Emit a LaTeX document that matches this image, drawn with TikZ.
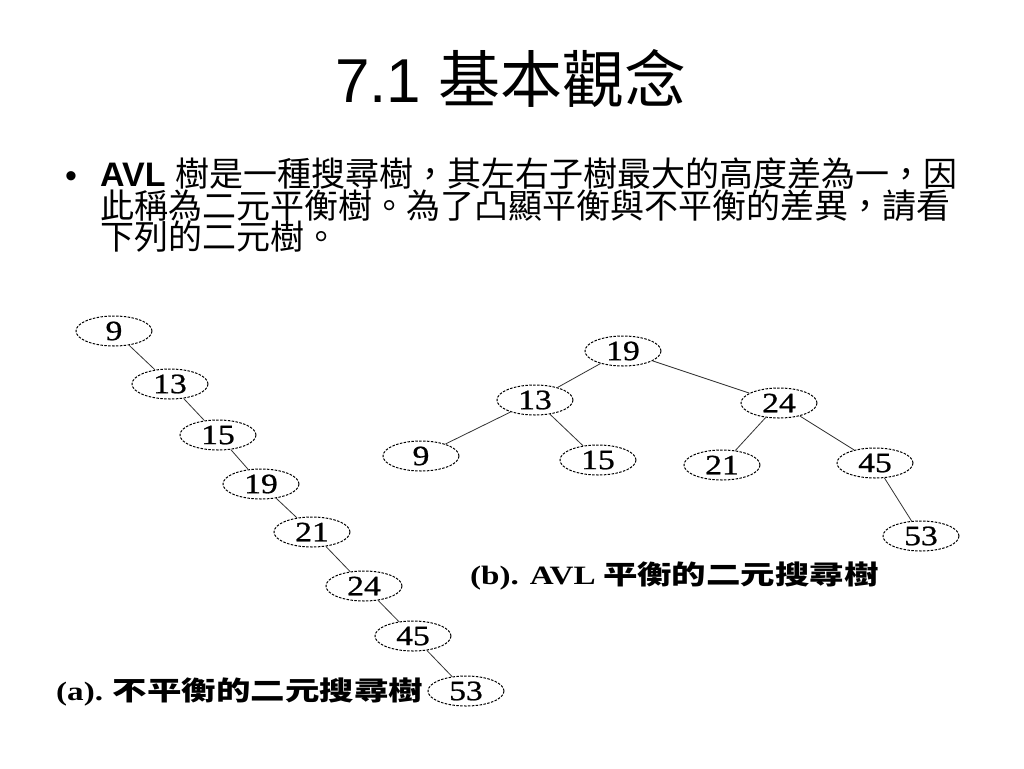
\documentclass[tikz,border=0pt]{standalone}
\usepackage{fontspec}
\setmainfont{Liberation Sans}
\newfontfamily\cjk{Noto Sans CJK TC}
\newfontfamily\cjklab{Noto Sans CJK TC}[FakeStretch=1.3]
\newfontfamily\treefont{Liberation Serif}[FakeStretch=1.2,FakeBold=0.8]
\newfontfamily\labserif{Liberation Serif}[FakeStretch=1.25]
\usetikzlibrary{shapes.geometric}
\newcommand\mytightlines{\setlength{\lineskiplimit}{-60pt}\setlength{\lineskip}{0pt}}
\begin{document}
\begin{tikzpicture}[x=1pt,y=-1pt,
  tnode/.style={ellipse,draw,line width=1pt,dash pattern=on 2.5pt off 1.4pt,
    minimum width=76pt,minimum height=30pt,inner sep=0pt,
    font=\treefont\fontsize{28}{28}\selectfont},
  tedge/.style={line width=0.8pt,draw=black!80},
  bodytext/.style={anchor=north west,inner sep=0pt,align=left,
    font=\fontsize{34}{31.5}\selectfont\mytightlines},
  caplab/.style={anchor=base west,inner sep=0pt,font=\fontsize{26.5}{26.5}\selectfont\bfseries}]
\useasboundingbox (0,0) rectangle (1024,768);
\fill[white] (0,0) rectangle (1024,768);
% title
\node[anchor=base west,inner sep=0pt,font=\fontsize{62}{62}\selectfont] (title) at (335,102) {7.1 {\cjk 基本觀念}};
% bullet text
\node[anchor=base,inner sep=0pt,font=\fontsize{34}{34}\selectfont] (bul) at (71,187) {•};
\node[bodytext] (body) at (100,158) {{\bfseries AVL} {\cjk 樹是一種搜尋樹，其左右子樹最大的高度差為一，因}\\
{\cjk 此稱為二元平衡樹。為了凸顯平衡與不平衡的差異，請看}\\
{\cjk 下列的二元樹。}};
% tree (a)
\node[tnode] (a9)  at (114,331) {9};
\node[tnode] (a13) at (170,384) {13};
\node[tnode] (a15) at (218,435) {15};
\node[tnode] (a19) at (261,484) {19};
\node[tnode] (a21) at (312,532) {21};
\node[tnode] (a24) at (364,586) {24};
\node[tnode] (a45) at (413,636) {45};
\node[tnode] (a53) at (466,691) {53};
\draw[tedge] (a9)--(a13);
\draw[tedge] (a13)--(a15);
\draw[tedge] (a15)--(a19);
\draw[tedge] (a19)--(a21);
\draw[tedge] (a21)--(a24);
\draw[tedge] (a24)--(a45);
\draw[tedge] (a45)--(a53);
\node[caplab] (capa) at (56,700) {{\labserif (a).} {\cjklab 不平衡的二元搜尋樹}};
% tree (b)
\node[tnode] (b19) at (623,351) {19};
\node[tnode] (b13) at (535,400) {13};
\node[tnode] (b24) at (779,403) {24};
\node[tnode] (b9)  at (421,456) {9};
\node[tnode] (b15) at (598,460) {15};
\node[tnode] (b21) at (722,465) {21};
\node[tnode] (b45) at (875,463) {45};
\node[tnode] (b53) at (921,536) {53};
\draw[tedge] (b19)--(b13);
\draw[tedge] (b19)--(b24);
\draw[tedge] (b13)--(b9);
\draw[tedge] (b13)--(b15);
\draw[tedge] (b24)--(b21);
\draw[tedge] (b24)--(b45);
\draw[tedge] (b45)--(b53);
\node[caplab] (capb) at (470,584) {{\labserif (b). AVL} {\cjklab 平衡的二元搜尋樹}};
\end{tikzpicture}
\end{document}
